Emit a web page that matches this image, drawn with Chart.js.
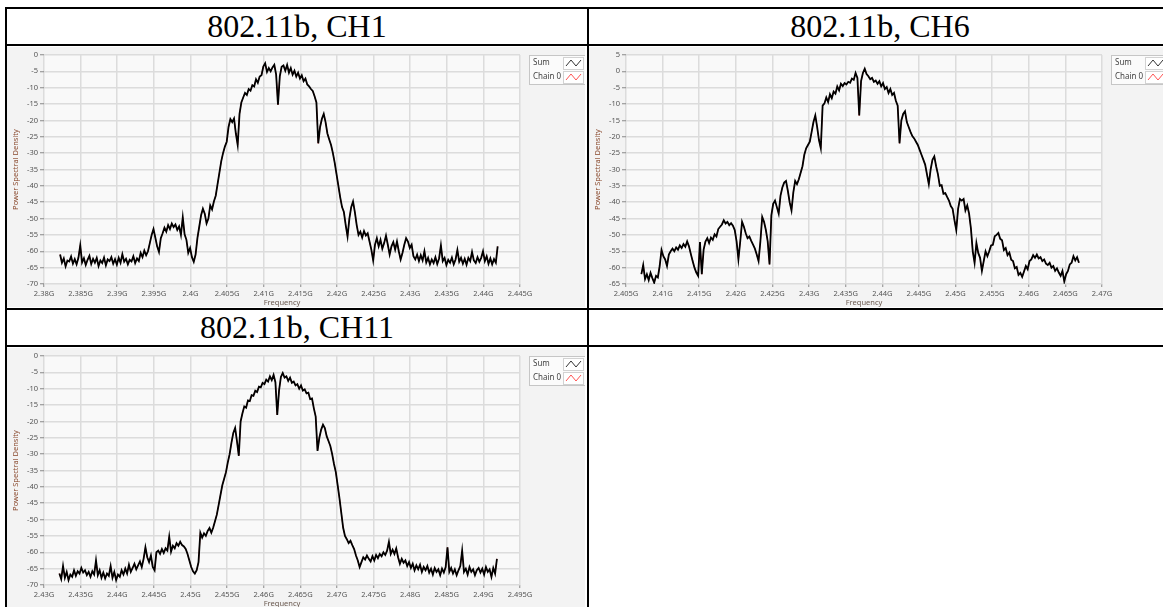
<!DOCTYPE html>
<html>
<head>
<meta charset="utf-8">
<script src="https://cdn.jsdelivr.net/npm/chart.js@4.4.1/dist/chart.umd.min.js"></script>
<style>
  html, body { margin: 0; padding: 0; background: #fff; overflow: hidden; }
  body { position: relative; width: 1163px; height: 607px; }
  .rule { position: absolute; background: #000; }
  .head { position: absolute; font-family: "Liberation Serif", "Times New Roman", serif; font-size: 32px; text-align: center; color: #000; height: 35px; line-height: 35px; }
  canvas { position: absolute; }
</style>
</head>
<body>
<!-- table rules -->
<div class="rule" style="left:5px;top:7px;width:1158px;height:2px"></div>
<div class="rule" style="left:5px;top:44px;width:1158px;height:2px"></div>
<div class="rule" style="left:5px;top:308px;width:1158px;height:2px"></div>
<div class="rule" style="left:5px;top:345px;width:1158px;height:2px"></div>
<div class="rule" style="left:5px;top:7px;width:2px;height:600px"></div>
<div class="rule" style="left:587px;top:7px;width:2px;height:600px"></div>

<div class="head" style="left:7px;top:9px;width:580px">802.11b, CH1</div>
<div class="head" style="left:589px;top:9px;width:582px">802.11b, CH6</div>
<div class="head" style="left:7px;top:310px;width:580px">802.11b, CH11</div>

<canvas id="ch1" width="578" height="260" style="left:7px;top:47px"></canvas>
<canvas id="ch6" width="578" height="260" style="left:589px;top:47px"></canvas>
<canvas id="ch11" width="578" height="260" style="left:7px;top:348px"></canvas>

<script>
// PSD traces, one bin every 0.25 MHz
const binStep = 0.00025;

const ch1Start = 2.3822;
const ch1Sum = [
  -61.0,-63.5,-62.2,-64.6,-62.8,-63.1,-61.6,-63.8,-62.4,-64.0,
  -62.0,-58.2,-63.4,-62.1,-64.2,-62.6,-61.4,-63.9,-62.3,-63.5,
  -62.0,-64.5,-62.8,-63.6,-61.9,-64.3,-62.5,-63.0,-61.8,-63.8,
  -62.4,-64.1,-62.0,-63.5,-60.9,-63.2,-62.3,-64.0,-62.6,-63.1,
  -61.5,-63.6,-62.2,-63.0,-60.5,-61.8,-59.8,-61.2,-60.0,-57.5,
  -55.0,-53.2,-55.8,-58.5,-60.2,-56.0,-54.5,-52.8,-54.0,-52.0,
  -53.2,-51.5,-52.6,-51.8,-53.5,-52.4,-55.0,-49.6,-54.8,-56.5,
  -60.5,-59.0,-61.8,-63.2,-61.0,-56.0,-52.5,-49.0,-47.0,-48.5,
  -51.5,-50.0,-46.0,-47.2,-44.8,-43.0,-39.5,-36.0,-32.5,-30.0,
  -28.0,-26.5,-22.0,-19.6,-20.5,-19.4,-24.0,-27.5,-18.0,-14.5,
  -13.0,-11.6,-12.2,-10.4,-10.9,-9.2,-9.6,-7.4,-8.5,-6.6,
  -6.2,-3.5,-2.5,-5.2,-4.0,-5.0,-3.8,-3.0,-6.0,-15.2,
  -6.5,-3.6,-3.2,-4.8,-3.0,-5.4,-4.0,-6.0,-4.8,-6.6,
  -5.4,-7.2,-6.2,-8.0,-7.2,-9.0,-9.6,-10.4,-11.0,-12.6,
  -14.5,-27.0,-22.0,-19.5,-18.0,-20.5,-24.0,-25.8,-27.5,-30.0,
  -33.0,-36.5,-40.0,-43.5,-46.5,-48.0,-52.0,-55.5,-50.0,-46.5,
  -44.8,-48.0,-52.0,-55.0,-54.0,-55.8,-53.8,-55.2,-54.5,-57.0,
  -59.5,-62.8,-58.0,-56.0,-58.5,-56.5,-59.2,-57.5,-55.2,-58.0,
  -61.0,-58.5,-57.2,-59.5,-57.0,-60.0,-62.5,-60.5,-58.0,-56.0,
  -57.0,-59.0,-58.0,-61.5,-62.5,-61.0,-63.0,-61.2,-62.8,-60.0,
  -63.4,-62.0,-64.0,-62.5,-63.6,-61.8,-63.9,-62.2,-58.2,-63.0,
  -62.0,-64.2,-62.6,-63.5,-61.9,-64.0,-62.5,-59.6,-63.2,-62.0,
  -63.8,-62.3,-64.1,-62.0,-63.0,-60.2,-62.8,-63.6,-61.8,-63.2,
  -62.0,-60.0,-63.0,-61.5,-63.8,-62.2,-64.0,-62.4,-63.5,-58.5
];

const ch6Start = 2.4071;
const ch6Sum = [
  -62.0,-59.2,-63.5,-62.0,-63.8,-61.6,-63.2,-64.6,-62.5,-63.0,
  -59.5,-54.6,-56.5,-57.5,-59.5,-56.0,-55.0,-54.2,-55.0,-53.8,
  -54.5,-53.2,-54.0,-52.8,-53.6,-52.0,-53.5,-55.8,-58.0,-60.0,
  -61.5,-62.5,-52.2,-62.0,-54.5,-52.0,-51.0,-52.5,-50.8,-51.5,
  -49.8,-50.5,-48.2,-47.5,-46.8,-45.5,-46.5,-46.0,-47.0,-46.4,
  -47.2,-48.5,-52.0,-57.5,-52.0,-46.0,-47.5,-49.5,-51.0,-50.5,
  -51.8,-53.0,-54.2,-56.0,-58.0,-52.0,-44.5,-46.0,-48.5,-52.0,
  -59.0,-44.0,-40.5,-39.5,-41.5,-43.5,-38.0,-35.5,-34.0,-33.5,
  -36.5,-40.0,-42.5,-37.0,-33.5,-34.5,-33.0,-31.0,-29.0,-25.5,
  -23.5,-22.5,-21.5,-18.5,-15.5,-13.5,-17.0,-21.0,-23.5,-10.5,
  -9.8,-8.0,-9.4,-7.0,-8.2,-6.2,-6.8,-4.6,-5.8,-3.8,
  -4.5,-3.6,-4.0,-3.2,-3.5,-2.2,-2.6,-0.5,-2.0,-13.5,
  -3.0,-0.5,0.8,-0.8,-1.5,-2.4,-2.0,-3.2,-2.8,-3.8,
  -3.0,-4.6,-3.6,-5.4,-4.8,-6.6,-5.4,-7.2,-6.6,-9.0,
  -10.5,-22.0,-15.0,-13.0,-12.2,-15.5,-17.0,-18.5,-19.8,-20.5,
  -21.5,-22.5,-24.0,-25.5,-27.0,-28.5,-31.5,-34.5,-30.0,-27.0,
  -26.0,-29.0,-31.5,-35.0,-34.8,-37.4,-37.2,-38.4,-39.5,-41.2,
  -42.0,-45.5,-48.5,-42.0,-39.0,-39.5,-39.0,-42.5,-41.0,-43.5,
  -48.0,-55.0,-58.5,-52.5,-55.5,-57.0,-61.0,-58.0,-55.0,-56.5,
  -55.0,-53.2,-53.0,-50.4,-50.0,-49.4,-51.2,-51.6,-54.6,-54.0,
  -56.2,-55.4,-57.6,-58.0,-60.2,-59.8,-62.2,-61.6,-62.8,-61.2,
  -59.5,-60.5,-58.0,-57.5,-56.2,-57.0,-56.0,-57.2,-56.8,-58.0,
  -57.5,-58.8,-59.2,-58.5,-60.0,-59.5,-61.0,-60.2,-61.5,-62.5,
  -61.0,-64.2,-62.0,-61.0,-59.0,-58.5,-56.5,-57.8,-56.8,-58.5
];

const ch11Start = 2.4321;
const ch11Sum = [
  -66.5,-68.2,-64.2,-67.8,-66.0,-68.5,-66.8,-67.5,-65.5,-67.2,
  -65.8,-66.5,-64.8,-66.2,-65.5,-67.0,-66.0,-67.5,-65.8,-66.8,
  -62.5,-67.0,-65.5,-67.8,-66.2,-68.0,-66.5,-67.2,-64.2,-67.8,
  -66.0,-68.5,-66.8,-67.5,-65.5,-66.8,-65.0,-66.5,-63.8,-66.0,
  -64.8,-63.5,-65.2,-64.0,-62.8,-64.5,-62.0,-58.5,-61.5,-63.0,
  -61.0,-64.5,-65.5,-60.0,-59.5,-60.5,-59.0,-60.2,-58.8,-59.5,
  -55.2,-59.8,-58.0,-58.8,-57.2,-58.0,-56.8,-57.8,-58.2,-59.0,
  -60.5,-62.5,-64.5,-65.8,-66.5,-65.5,-63.0,-54.0,-55.5,-54.2,
  -55.0,-53.5,-52.6,-54.0,-52.5,-50.5,-48.5,-45.5,-42.5,-39.5,
  -37.5,-35.5,-32.5,-30.0,-26.5,-23.5,-22.0,-26.0,-30.5,-20.0,
  -17.5,-15.4,-15.8,-13.6,-13.8,-12.0,-12.2,-10.6,-11.0,-9.4,
  -9.6,-8.2,-8.6,-7.2,-7.8,-6.2,-7.4,-5.8,-8.0,-18.0,
  -10.5,-6.4,-5.2,-6.6,-6.2,-7.6,-6.6,-8.2,-7.8,-9.0,
  -8.6,-10.0,-9.0,-10.6,-10.2,-11.4,-11.2,-13.2,-13.0,-16.0,
  -18.5,-29.0,-25.0,-22.5,-21.0,-22.0,-24.5,-26.0,-27.5,-30.0,
  -33.0,-35.5,-39.5,-43.5,-48.0,-52.5,-55.0,-56.0,-57.2,-56.5,
  -57.8,-59.0,-61.0,-62.5,-64.5,-63.0,-61.5,-62.2,-61.0,-62.0,
  -62.8,-61.2,-62.5,-60.8,-61.8,-60.5,-61.2,-60.0,-60.8,-59.5,
  -56.8,-60.5,-59.2,-60.5,-58.8,-61.5,-63.5,-62.0,-63.2,-62.5,
  -64.2,-63.0,-64.8,-63.5,-65.5,-64.0,-65.2,-63.8,-66.0,-64.5,
  -65.5,-64.2,-66.2,-65.0,-66.8,-64.8,-66.0,-65.2,-67.0,-65.0,
  -66.2,-64.5,-58.5,-66.0,-64.8,-66.5,-65.2,-67.0,-65.5,-64.2,
  -59.5,-66.0,-65.0,-66.8,-64.5,-66.0,-65.2,-67.0,-65.5,-64.8,
  -66.2,-65.0,-66.8,-64.5,-66.0,-65.2,-67.5,-64.8,-66.5,-62.0
];

// frequency axis ticks (GHz)
const ch1Ticks = [2.38, 2.385, 2.39, 2.395, 2.4, 2.405, 2.41, 2.415, 2.42, 2.425, 2.43, 2.435, 2.44, 2.445];
const ch6Ticks = [2.405, 2.41, 2.415, 2.42, 2.425, 2.43, 2.435, 2.44, 2.445, 2.45, 2.455, 2.46, 2.465, 2.47];
const ch11Ticks = [2.43, 2.435, 2.44, 2.445, 2.45, 2.455, 2.46, 2.465, 2.47, 2.475, 2.48, 2.485, 2.49, 2.495];

const seriesNames = ['Sum', 'Chain 0'];

// light grey panel with a slightly lighter plotting area
const panelFill = {
  id: 'panelFill',
  beforeDraw(chart) {
    const { ctx, chartArea: a, width, height } = chart;
    ctx.save();
    ctx.fillStyle = '#f3f3f3';
    ctx.fillRect(0, 0, width, height);
    ctx.fillStyle = '#f9f9f9';
    ctx.fillRect(a.left, a.top, a.right - a.left, a.bottom - a.top);
    ctx.restore();
  }
};

// boxed legend with small zig-zag swatches, right of the plot
const legendBox = {
  id: 'legendBox',
  afterDraw(chart) {
    const ctx = chart.ctx;
    const x = chart.chartArea.right + 9, y = chart.chartArea.top;
    ctx.save();
    ctx.fillStyle = '#fbfbfb';
    ctx.fillRect(x, y, 58, 29);
    ctx.strokeStyle = '#c6c6c6';
    ctx.lineWidth = 1;
    ctx.strokeRect(x + 0.5, y + 0.5, 58, 29);
    chart.data.datasets.forEach((ds, i) => {
      const rowY = y + 8 + i * 14;
      ctx.font = '8px "Noto Sans"';
      ctx.fillStyle = '#444';
      ctx.textBaseline = 'middle';
      ctx.fillText(ds.label, x + 4, rowY);
      const ix = x + 34, iy = rowY - 6;
      ctx.fillStyle = '#fff';
      ctx.fillRect(ix, iy, 20, 12);
      ctx.strokeStyle = '#d2d2d2';
      ctx.strokeRect(ix + 0.5, iy + 0.5, 20, 12);
      ctx.strokeStyle = ds.swatch;
      ctx.beginPath();
      ctx.moveTo(ix + 3, iy + 9);
      ctx.lineTo(ix + 8, iy + 3);
      ctx.lineTo(ix + 13, iy + 9);
      ctx.lineTo(ix + 18, iy + 3);
      ctx.stroke();
    });
    ctx.restore();
  }
};

function spectrumChart(id, start, values, xTicks, yMin, yMax) {
  const pts = values.map((v, i) => ({ x: start + i * binStep, y: v }));
  const tickFont = { family: 'Noto Sans', size: 7.5 };
  return new Chart(document.getElementById(id), {
    type: 'line',
    data: {
      datasets: [
        { label: seriesNames[0], data: pts, borderColor: '#000', borderWidth: 1.8, pointRadius: 0, swatch: '#333' },
        { label: seriesNames[1], data: pts, borderColor: '#ff4d4d', borderWidth: 1, pointRadius: 0, swatch: '#f55' }
      ]
    },
    options: {
      responsive: false,
      animation: false,
      devicePixelRatio: 1,
      layout: { padding: { top: 8, right: 65, left: 0, bottom: 0 } },
      plugins: { legend: { display: false }, tooltip: { enabled: false } },
      scales: {
        x: {
          type: 'linear',
          min: xTicks[0],
          max: xTicks[xTicks.length - 1],
          afterBuildTicks: axis => { axis.ticks = xTicks.map(v => ({ value: v })); },
          afterFit: s => { s.height = 23; },
          ticks: {
            font: tickFont, color: '#555', padding: 2, maxRotation: 0, autoSkip: false,
            callback: v => (+v.toFixed(3)) + 'G'
          },
          grid: { color: '#dcdcdc', lineWidth: 1.5, tickLength: 3, tickColor: '#888', tickWidth: 1 },
          border: { display: false },
          title: { display: true, text: 'Frequency', color: '#6b5a50', font: { family: 'Noto Sans', size: 7.5 }, padding: { top: 0, bottom: 0 } }
        },
        y: {
          min: yMin,
          max: yMax,
          afterFit: s => { s.width = 37; },
          ticks: { stepSize: 5, font: tickFont, color: '#555', padding: 2 },
          grid: { color: '#dcdcdc', lineWidth: 1.5, tickLength: 4, tickColor: '#888', tickWidth: 1 },
          border: { display: false },
          title: { display: true, text: 'Power Spectral Density', color: '#8a4a2e', font: { family: 'Noto Sans', size: 7.5 }, padding: { top: 4, bottom: 0 } }
        }
      }
    },
    plugins: [panelFill, legendBox]
  });
}

spectrumChart('ch1', ch1Start, ch1Sum, ch1Ticks, -70, 0);
spectrumChart('ch6', ch6Start, ch6Sum, ch6Ticks, -65, 5);
spectrumChart('ch11', ch11Start, ch11Sum, ch11Ticks, -70, 0);
</script>
</body>
</html>
